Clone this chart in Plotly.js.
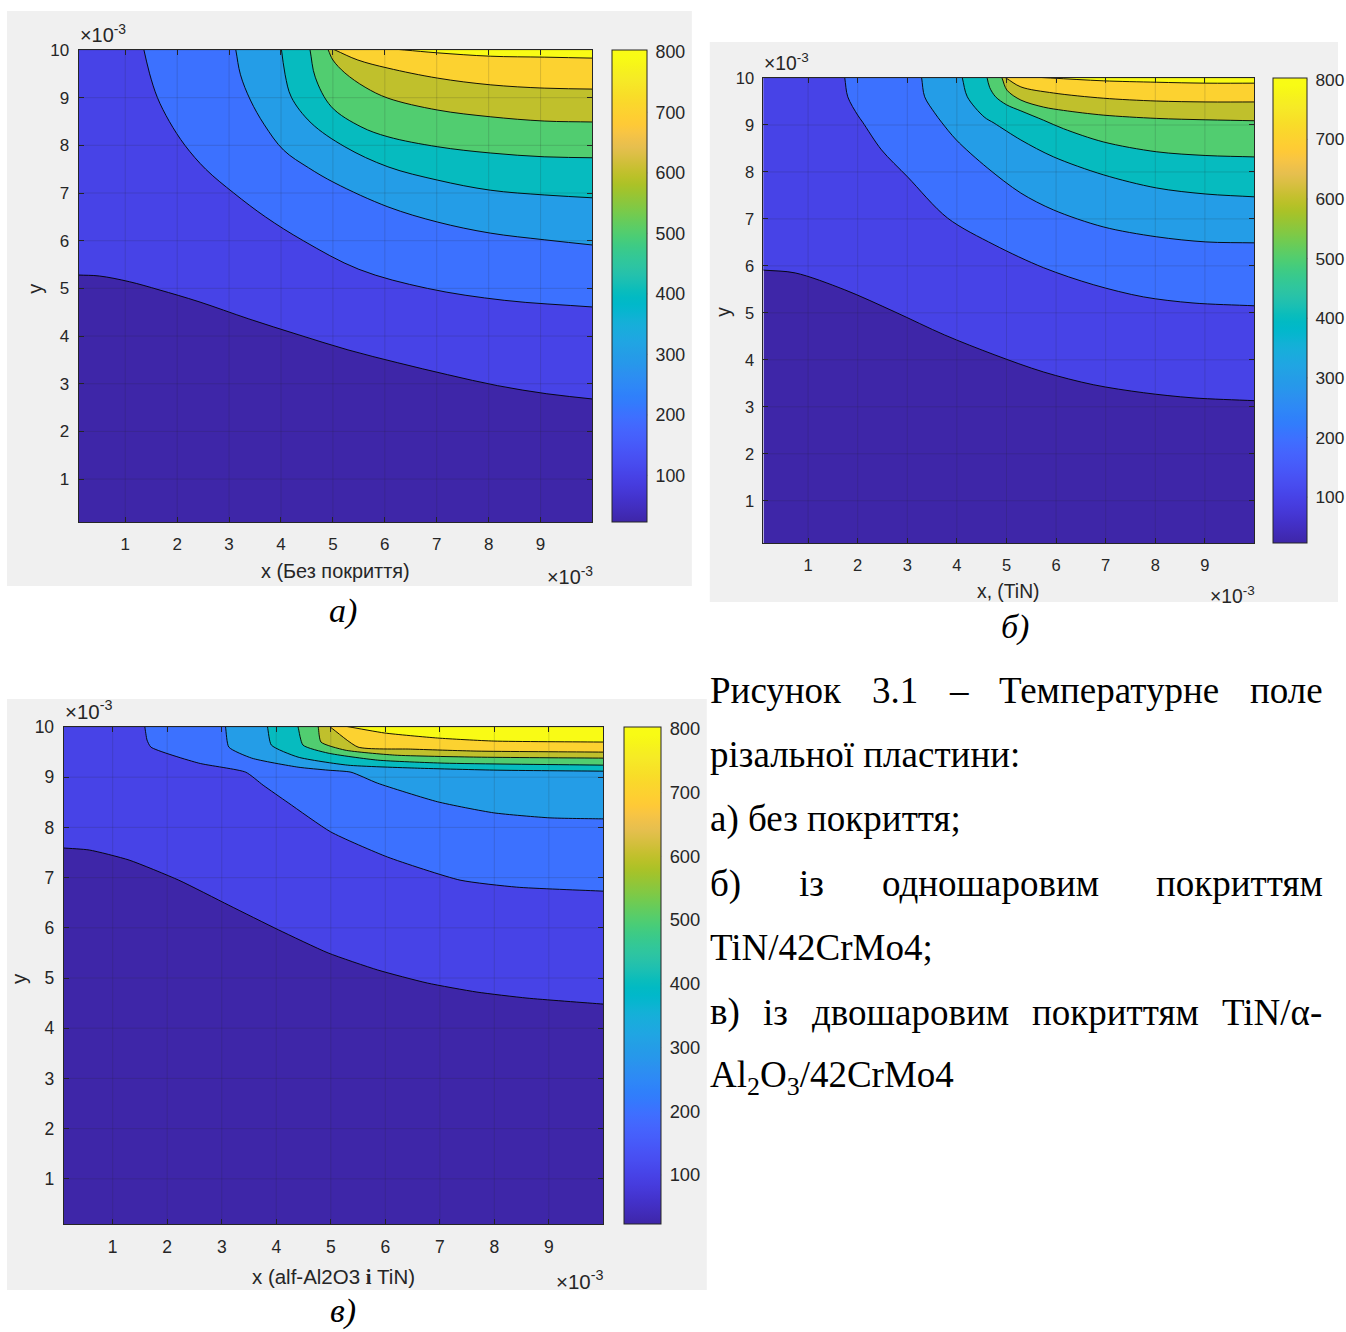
<!DOCTYPE html>
<html><head><meta charset="utf-8">
<script src="https://cdn.plot.ly/plotly-3.0.1.min.js"></script>
<style>
html,body{margin:0;padding:0;background:#fff;overflow:hidden;}
#chart{position:absolute;left:0;top:0;}
</style>
</head><body><div id="chart"></div>
<script>
// ---------------- DATA ----------------
const levels = [100, 200, 300, 400, 500, 600, 700, 800];
const xTicks = [1, 2, 3, 4, 5, 6, 7, 8, 9];
const yTicks = [1, 2, 3, 4, 5, 6, 7, 8, 9, 10];
const cbTicks = [100, 200, 300, 400, 500, 600, 700, 800];
const xRange = [0.1, 10];
const yRange = [0.1, 10];
const cMin = 23, cMax = 803;

// Panel a) contour lines (x, y in units of 1e-3), one row per level
const aX = [
  [0.1, 0.50, 1.08, 1.65, 2.42, 3.38, 4.33, 5.29, 6.25, 7.21, 8.17, 9.12, 10],
  [1.36, 1.47, 1.62, 1.85, 2.15, 2.55, 3.09, 3.70, 4.43, 5.50, 6.82, 8.30, 10],
  [3.13, 3.22, 3.41, 3.68, 4.05, 4.53, 5.04, 6.06, 7.02, 8.03, 9.07, 10],
  [4.01, 4.08, 4.20, 4.58, 5.23, 6.06, 7.02, 8.03, 9.07, 10],
  [4.56, 4.66, 4.97, 5.54, 6.06, 7.02, 8.03, 9.07, 10],
  [4.91, 5.00, 5.23, 5.62, 6.06, 7.02, 8.03, 9.07, 10],
  [5.04, 5.48, 6.06, 7.02, 8.03, 9.07, 10],
  [6.38, 7.02, 8.03, 9.07, 10]
];
const aY = [
  [5.28, 5.26, 5.14, 4.97, 4.72, 4.36, 4.03, 3.71, 3.44, 3.19, 2.96, 2.79, 2.68],
  [10, 9.50, 9.00, 8.50, 8.00, 7.50, 7.00, 6.50, 6.00, 5.40, 5.00, 4.75, 4.61],
  [10, 9.48, 8.95, 8.43, 7.90, 7.53, 7.21, 6.71, 6.39, 6.16, 6.02, 5.91],
  [10, 9.48, 9.01, 8.47, 7.97, 7.55, 7.27, 7.06, 6.96, 6.90],
  [10, 9.43, 8.81, 8.39, 8.18, 7.97, 7.84, 7.76, 7.74],
  [10, 9.79, 9.52, 9.22, 8.99, 8.74, 8.60, 8.51, 8.49],
  [10, 9.79, 9.62, 9.41, 9.27, 9.20, 9.18],
  [10, 9.94, 9.87, 9.85, 9.83]
];
// Panel б)
const bX = [
  [0.1, 0.74, 1.74, 2.75, 3.75, 4.75, 5.75, 6.75, 7.76, 8.76, 10],
  [1.74, 1.80, 2.00, 2.10, 2.48, 3.01, 3.81, 4.75, 5.75, 6.75, 7.76, 8.76, 10],
  [3.29, 3.35, 3.55, 3.69, 3.99, 4.61, 5.29, 5.95, 6.95, 8.02, 9.02, 10],
  [4.11, 4.21, 4.55, 4.75, 5.29, 5.95, 6.95, 8.02, 9.02, 10],
  [4.61, 4.66, 4.78, 5.00, 5.29, 5.75, 6.15, 6.95, 8.02, 9.02, 10],
  [4.91, 5.01, 5.29, 5.75, 6.15, 6.95, 8.02, 9.02, 10],
  [4.99, 5.29, 5.95, 6.95, 8.02, 9.02, 10],
  [5.89, 6.95, 8.02, 9.02, 10]
];
const bY = [
  [5.91, 5.85, 5.49, 5.02, 4.53, 4.11, 3.74, 3.47, 3.30, 3.19, 3.13],
  [10, 9.60, 9.21, 9.06, 8.47, 7.89, 7.02, 6.45, 5.96, 5.60, 5.34, 5.21, 5.15],
  [10, 9.60, 9.26, 9.06, 8.68, 8.09, 7.55, 7.19, 6.83, 6.62, 6.51, 6.49],
  [10, 9.60, 9.17, 9.04, 8.68, 8.32, 7.94, 7.66, 7.53, 7.47],
  [10, 9.80, 9.60, 9.43, 9.30, 9.10, 8.92, 8.64, 8.43, 8.35, 8.32],
  [10, 9.74, 9.53, 9.38, 9.31, 9.21, 9.14, 9.11, 9.09],
  [10, 9.81, 9.68, 9.57, 9.51, 9.49, 9.49],
  [10, 9.94, 9.91, 9.89, 9.89]
];
// Panel в)
const cX = [
  [0.1, 0.57, 1.30, 2.21, 3.13, 4.04, 4.95, 5.86, 6.77, 7.68, 8.60, 10],
  [1.59, 1.63, 1.70, 2.58, 3.44, 3.76, 4.22, 5.00, 6.04, 7.37, 8.41, 10],
  [3.07, 3.13, 3.55, 4.40, 4.95, 5.37, 5.86, 6.96, 7.99, 9.02, 10],
  [3.84, 3.91, 4.40, 5.31, 6.59, 8.05, 10],
  [4.40, 4.49, 4.95, 5.86, 7.08, 10],
  [4.77, 4.82, 5.26, 6.17, 7.68, 10],
  [4.99, 5.50, 6.46, 7.68, 10],
  [5.35, 5.99, 6.96, 7.99, 10]
];
const cY = [
  [7.59, 7.55, 7.35, 6.95, 6.45, 5.96, 5.50, 5.16, 4.90, 4.72, 4.60, 4.48],
  [10, 9.74, 9.60, 9.28, 9.10, 8.84, 8.49, 7.91, 7.41, 6.95, 6.81, 6.73],
  [10, 9.60, 9.38, 9.20, 9.14, 9.10, 8.88, 8.51, 8.29, 8.19, 8.17],
  [10, 9.64, 9.40, 9.24, 9.18, 9.14, 9.12],
  [10, 9.64, 9.48, 9.34, 9.28, 9.24],
  [10, 9.70, 9.54, 9.44, 9.40, 9.38],
  [10, 9.60, 9.56, 9.52, 9.50],
  [10, 9.88, 9.78, 9.72, 9.70]
];

const xTitles = ['x (Без покриття)', 'x, (TiN)', 'x (alf-Al2O3 <span style="font-family:\'Liberation Serif\'"><b>і</b></span> TiN)'];
const captions = ['а)', 'б)', 'в)'];
const textLines = [
  {words: ['Рисунок', '3.1', '–', 'Температурне', 'поле'], justify: true},
  {words: ['різальної пластини:'], justify: false},
  {words: ['а) без покриття;'], justify: false},
  {words: ['б)', 'із', 'одношаровим', 'покриттям'], justify: true},
  {words: ['TiN/42CrMo4;'], justify: false},
  {words: ['в)', 'із', 'двошаровим', 'покриттям', 'TiN/α-'], justify: true},
  {words: ['Al<sub>2</sub>O<sub>3</sub>/42CrMo4'], justify: false}
];

// ---------------- STYLE ----------------
const parula = [
[0.2422,0.1504,0.6603],[0.2504,0.1650,0.7076],[0.2578,0.1818,0.7511],[0.2647,0.1978,0.7952],
[0.2706,0.2147,0.8364],[0.2751,0.2342,0.8710],[0.2783,0.2559,0.8991],[0.2803,0.2782,0.9221],
[0.2813,0.3006,0.9414],[0.2810,0.3228,0.9579],[0.2795,0.3447,0.9717],[0.2760,0.3667,0.9829],
[0.2699,0.3892,0.9906],[0.2602,0.4123,0.9952],[0.2440,0.4358,0.9988],[0.2206,0.4603,0.9973],
[0.1963,0.4847,0.9892],[0.1834,0.5074,0.9798],[0.1786,0.5289,0.9682],[0.1764,0.5499,0.9520],
[0.1687,0.5703,0.9359],[0.1540,0.5902,0.9218],[0.1460,0.6091,0.9079],[0.1380,0.6276,0.8973],
[0.1248,0.6459,0.8883],[0.1113,0.6635,0.8763],[0.0952,0.6798,0.8598],[0.0689,0.6948,0.8394],
[0.0297,0.7082,0.8163],[0.0036,0.7199,0.7909],[0.0067,0.7300,0.7635],[0.0433,0.7394,0.7350],
[0.0964,0.7489,0.7057],[0.1408,0.7584,0.6743],[0.1717,0.7685,0.6402],[0.1938,0.7788,0.6033],
[0.2161,0.7894,0.5612],[0.2470,0.7975,0.5140],[0.2906,0.8026,0.4640],[0.3406,0.8036,0.4140],
[0.3909,0.8008,0.3638],[0.4456,0.7946,0.3140],[0.5044,0.7865,0.2681],[0.5616,0.7778,0.2262],
[0.6174,0.7695,0.1840],[0.6720,0.7623,0.1535],[0.7242,0.7563,0.1558],[0.7738,0.7522,0.1856],
[0.8203,0.7493,0.2283],[0.8635,0.7484,0.2690],[0.9035,0.7484,0.3047],[0.9390,0.7565,0.2894],
[0.9729,0.7731,0.2637],[0.9959,0.7865,0.2157],[0.9952,0.8076,0.1974],[0.9875,0.8283,0.1827],
[0.9806,0.8486,0.1683],[0.9739,0.8711,0.1579],[0.9681,0.8934,0.1527],[0.9640,0.9162,0.1474],
[0.9644,0.9384,0.1258],[0.9683,0.9624,0.0985],[0.9728,0.9852,0.0836],[0.9769,0.9839,0.0805]];
const rgb = c => 'rgb(' + c.map(v => Math.round(v * 255)).join(',') + ')';
const colorscale = parula.map((c, i) => [i / (parula.length - 1), rgb(c)]);
function parulaAt(t) {
  t = Math.max(0, Math.min(1, t));
  const f = t * (parula.length - 1), i = Math.floor(f), j = Math.min(i + 1, parula.length - 1), r = f - i;
  return rgb(parula[i].map((v, k) => v + (parula[j][k] - v) * r));
}

// design space is 1346 x 1332; the figure fills the actual viewport
const W = 1346, H = 1332;
const VW = Math.max(window.innerWidth || W, document.documentElement.clientWidth || 0) || W;
const VH = Math.max(window.innerHeight || H, document.documentElement.clientHeight || 0) || H;
const SX = VW / W, SY = VH / H;
const chartDiv = document.getElementById('chart');
chartDiv.style.width = VW + 'px'; chartDiv.style.height = VH + 'px';
const PX = x => x / W, PY = y => 1 - y / H;
const AX_COLOR = '#262626';
const SANS = 'Liberation Sans, Arial, sans-serif';
const SERIF = 'Liberation Serif, Times New Roman, serif';
const PAD = (xRange[1] - xRange[0]) * 0.1;

const panels = [
  {xa: 'x', ya: 'y', X: aX, Y: aY, box: [79, 50, 596, 522], cb: [616, 651], fs: 17, smooth: 1.0,
   xt: [338, 571], yt: [35, 289], expTop: [80, 46], expBot: [597, 575], cap: [345, 611], bg: [7, 11, 696, 586]},
  {xa: 'x2', ya: 'y2', X: bX, Y: bY, box: [768, 78, 1262, 543], cb: [1281, 1315], fs: 16.5, smooth: 0.9,
   xt: [1015, 591], yt: [727, 312], expTop: [769, 74], expBot: [1263, 595], cap: [1021, 627], bg: [714, 42, 1346, 602]},
  {xa: 'x3', ya: 'y3', X: cX, Y: cY, box: [64, 727, 607, 1224], cb: [628, 665], fs: 17.5, smooth: 0.55,
   xt: [335, 1276], yt: [18, 978], expTop: [65, 723], expBot: [608, 1280], cap: [345, 1311], bg: [7, 699, 711, 1290]}
];

function bandPath(X, Y) {
  const n = X.length - 1;
  const startsLeft = X[0] <= xRange[0];
  const e0x = 2 * X[0] - X[1], e0y = 2 * Y[0] - Y[1];
  const enx = 2 * X[n] - X[n - 1], eny = 2 * Y[n] - Y[n - 1];
  const top = yRange[1] + PAD;
  const px = [e0x].concat(X, [enx, enx]);
  const py = [e0y].concat(Y, [eny, top]);
  if (startsLeft) { px.push(e0x); py.push(top); }
  return [px, py];
}

const traces = [];
const layout = {
  width: VW, height: VH, margin: {l: 0, r: 0, t: 0, b: 0},
  paper_bgcolor: '#ffffff', plot_bgcolor: parulaAt(0), showlegend: false,
  shapes: [], annotations: []
};

panels.forEach((p, pi) => {
  const base = {xaxis: p.xa, yaxis: p.ya, hoverinfo: 'skip', showlegend: false, mode: 'lines'};
  traces.push(Object.assign({}, base, {
    x: [xRange[0], xRange[1], xRange[1], xRange[0]], y: [yRange[0], yRange[0], yRange[1], yRange[1]],
    fill: 'toself', fillcolor: parulaAt(0), line: {width: 0}
  }));
  levels.forEach((L, i) => {
    const [bx, by] = bandPath(p.X[i], p.Y[i]);
    traces.push(Object.assign({}, base, {
      x: bx, y: by, fill: 'toself', fillcolor: parulaAt((L - cMin) / (cMax - cMin)),
      line: {color: 'rgba(0,0,0,0.9)', width: 1, shape: 'spline', smoothing: p.smooth}
    }));
  });
  const cbLen = p.box[3] - p.box[1];
  traces.push({
    xaxis: p.xa, yaxis: p.ya, x: [5], y: [5], mode: 'markers', hoverinfo: 'skip', showlegend: false,
    marker: {size: 1, opacity: 0, color: [cMin], cmin: cMin, cmax: cMax, colorscale: colorscale, showscale: true,
      colorbar: {
        x: PX(p.cb[0]), xanchor: 'left', y: PY(p.box[1]), yanchor: 'top',
        len: cbLen * SY, lenmode: 'pixels', thickness: (p.cb[1] - p.cb[0]) * SX, thicknessmode: 'pixels',
        xpad: 0, ypad: 0, outlinecolor: AX_COLOR, outlinewidth: 1, borderwidth: 0,
        ticks: 'outside', ticklen: 5, tickcolor: 'rgba(0,0,0,0)', tickvals: cbTicks,
        tickfont: {family: SANS, size: p.fs + 0.8, color: AX_COLOR}
      }}
  });
  cbTicks.forEach(v => {
    const yy = p.box[1] + (cMax - v) / (cMax - cMin) * cbLen;
    layout.shapes.push({type: 'line', xref: 'paper', yref: 'paper', x0: PX(p.cb[1] - 5), x1: PX(p.cb[1]),
      y0: PY(yy), y1: PY(yy), line: {color: AX_COLOR, width: 1}, layer: 'above'});
  });

  const [l, t, r, b] = p.box;
  const sfx = pi === 0 ? '' : String(pi + 1);
  const common = {
    ticks: 'inside', ticklen: 5, tickcolor: AX_COLOR, tickwidth: 1, showline: true, linecolor: AX_COLOR,
    linewidth: 1, mirror: 'ticks', showgrid: false, zeroline: false, layer: 'above traces', fixedrange: true,
    tickfont: {family: SANS, size: p.fs, color: AX_COLOR}
  };
  layout['xaxis' + sfx] = Object.assign({}, common, {domain: [PX(l), PX(r)], range: xRange, tickvals: xTicks,
    anchor: 'y' + sfx, ticklabelstandoff: 7});
  layout['yaxis' + sfx] = Object.assign({}, common, {domain: [PY(b), PY(t)], range: yRange, tickvals: yTicks,
    anchor: 'x' + sfx, ticklabelstandoff: 5});

  layout.shapes.push({type: 'rect', xref: 'paper', yref: 'paper', x0: PX(p.bg[0]), x1: PX(p.bg[2]),
    y0: PY(p.bg[3]), y1: PY(p.bg[1]), fillcolor: '#f0f0f0', line: {width: 0}, layer: 'below'});
  xTicks.forEach(v => layout.shapes.push({type: 'line', xref: p.xa, yref: p.ya + ' domain', x0: v, x1: v, y0: 0, y1: 1,
    line: {color: 'rgba(38,38,38,0.16)', width: 1}, layer: 'above'}));
  yTicks.forEach(v => layout.shapes.push({type: 'line', xref: p.xa + ' domain', yref: p.ya, x0: 0, x1: 1, y0: v, y1: v,
    line: {color: 'rgba(38,38,38,0.16)', width: 1}, layer: 'above'}));

  const A = (text, x, y, o) => layout.annotations.push(Object.assign({
    text: text, xref: 'paper', yref: 'paper', x: PX(x), y: PY(y), showarrow: false,
    borderpad: 0, borderwidth: 0, xanchor: 'center', yanchor: 'middle',
    font: {family: SANS, size: p.fs * 1.17, color: AX_COLOR}
  }, o || {}));
  A(xTitles[pi], p.xt[0], p.xt[1]);
  A('y', p.yt[0], p.yt[1], {textangle: -90});
  A('×10<sup>-3</sup>', p.expTop[0], p.expTop[1], {xanchor: 'left', yanchor: 'bottom'});
  A('×10<sup>-3</sup>', p.expBot[0], p.expBot[1], {xanchor: 'right'});
  A(captions[pi], p.cap[0], p.cap[1], {font: {family: SERIF, size: 34, color: '#000', style: 'italic'}});
});

// right-hand caption text (justified like the source)
const TEXT_L = 714, TEXT_R = 1330, TEXT_Y0 = 690, TEXT_DY = 64.5, TEXT_FS = 37;
const cnv = document.createElement('canvas').getContext('2d');
cnv.font = TEXT_FS + "px 'Liberation Serif'";
textLines.forEach((ln, i) => {
  const y = TEXT_Y0 + i * TEXT_DY;
  const tf = {family: SERIF, size: TEXT_FS, color: '#000'};
  if (!ln.justify) {
    layout.annotations.push({text: ln.words[0], xref: 'paper', yref: 'paper', x: PX(TEXT_L), y: PY(y),
      xanchor: 'left', yanchor: 'middle', showarrow: false, borderpad: 0, borderwidth: 0, font: tf});
    return;
  }
  const ws = ln.words.map(w => cnv.measureText(w).width * SX);
  const gap = (TEXT_R - TEXT_L - ws.reduce((s, v) => s + v, 0) / SX * 1) / (ln.words.length - 1);
  let cx = TEXT_L;
  ln.words.forEach((w, k) => {
    layout.annotations.push({text: w, xref: 'paper', yref: 'paper', x: PX(cx), y: PY(y),
      xanchor: 'left', yanchor: 'middle', showarrow: false, borderpad: 0, borderwidth: 0, font: tf});
    cx += ws[k] / SX + gap;
  });
});

Plotly.newPlot('chart', traces, layout, {displayModeBar: false, staticPlot: true});
</script></body></html>
